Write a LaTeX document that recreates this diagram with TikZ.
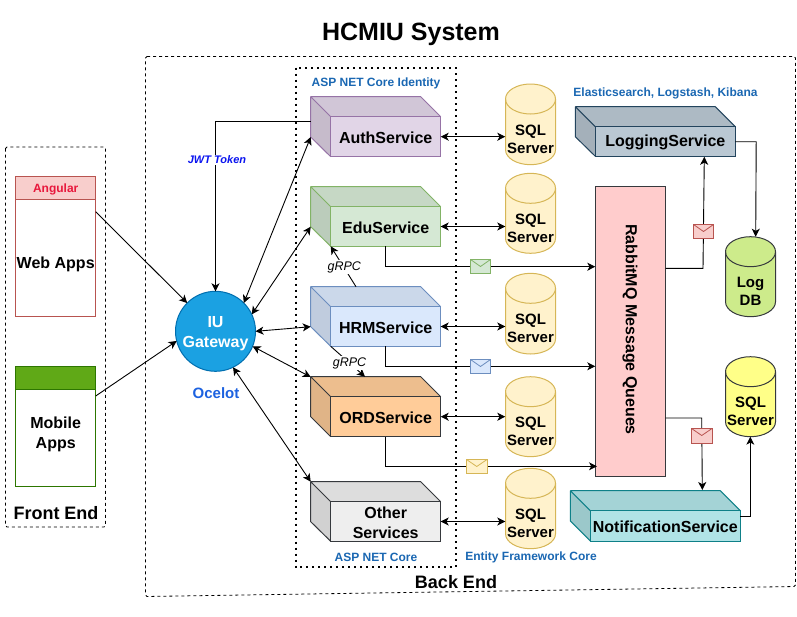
\documentclass[tikz,border=0pt]{standalone}
\usepackage{fontspec}
\setmainfont{Liberation Sans}
\usetikzlibrary{arrows.meta,calc}
\definecolor{infoblue}{HTML}{1A67B2}
\definecolor{ocelot}{HTML}{1D62E0}
\definecolor{crim}{HTML}{E8183C}
\definecolor{jwt}{HTML}{0A14F0}
\definecolor{angfill}{HTML}{F8CECC}
\definecolor{angstroke}{HTML}{B85450}
\definecolor{mobfill}{HTML}{60A917}
\definecolor{mobstroke}{HTML}{2D7600}
\definecolor{gatefill}{HTML}{1BA1E2}
\definecolor{gatestroke}{HTML}{006EAF}
\definecolor{authf}{HTML}{E1D5E7}
\definecolor{auths}{HTML}{9673A6}
\definecolor{eduf}{HTML}{D5E8D4}
\definecolor{edus}{HTML}{82B366}
\definecolor{hrmf}{HTML}{DAE8FC}
\definecolor{hrms}{HTML}{6C8EBF}
\definecolor{ordf}{HTML}{FFCC99}
\definecolor{dk}{HTML}{36393D}
\definecolor{othf}{HTML}{EEEEEE}
\definecolor{logf}{HTML}{BAC8D3}
\definecolor{logst}{HTML}{23445D}
\definecolor{notf}{HTML}{B0E3E6}
\definecolor{nots}{HTML}{0E8088}
\definecolor{rabf}{HTML}{FFCCCC}
\definecolor{sqlf}{HTML}{FFF2CC}
\definecolor{sqls}{HTML}{D6B656}
\definecolor{ldbf}{HTML}{CDEB8B}
\definecolor{ysf}{HTML}{FFFF88}
\tikzset{
  x=1pt,y=-1pt,
  conn/.style={draw=black,line width=0.9pt},
  tip/.style={-{Stealth[length=8pt,width=8pt,inset=2.2pt]}},
  dtip/.style={{Stealth[length=8pt,width=8pt,inset=2.2pt]}-{Stealth[length=8pt,width=8pt,inset=2.2pt]}},
  lab/.style={font=\bfseries\fontsize{16}{20}\selectfont,align=center,text=black,inner sep=0pt},
  sql/.style={font=\bfseries\fontsize{15}{18}\selectfont,align=center,text=black,inner sep=0pt},
  info/.style={font=\bfseries\fontsize{12}{14}\selectfont,text=infoblue,inner sep=0pt},
  rpc/.style={font=\itshape\fontsize{12.5}{15}\selectfont,fill=white,inner sep=1pt},
  big/.style={font=\bfseries\fontsize{18}{22}\selectfont,inner sep=0pt},
}
% \cuboid{name}{backleft x}{back right x}{front left x}{front right x}{top y}{front top y}{side bottom y}{bottom y}{fill}{stroke}{text}
\newcommand{\cuboid}[9]{%
  \def\cbname{#1}\def\cbA{#2}\def\cbB{#3}\def\cbC{#4}\def\cbD{#5}\def\cbE{#6}\def\cbF{#7}\def\cbG{#8}\def\cbH{#9}\cuboidrest}
\newcommand{\cuboidrest}[3]{%
  \fill[#1!93!black] (\cbA,\cbE) -- (\cbB,\cbE) -- (\cbD,\cbF) -- (\cbC,\cbF) -- cycle;
  \fill[#1!88!black] (\cbA,\cbE) -- (\cbC,\cbF) -- (\cbC,\cbH) -- (\cbA,\cbG) -- cycle;
  \draw[#2,line width=1pt,line join=round] (\cbA,\cbE) -- (\cbB,\cbE) -- (\cbD,\cbF) (\cbA,\cbE) -- (\cbC,\cbF) (\cbA,\cbE) -- (\cbA,\cbG) -- (\cbC,\cbH);
  \node[draw=#2,fill=#1,line width=1pt,minimum width={\cbD-\cbC},minimum height={\cbH-\cbF},inner sep=0pt,anchor=north west,outer sep=0pt] (\cbname) at (\cbC,\cbF) {};
  \node[lab] (\cbname-text) at ([yshift=-1.2pt]\cbname.center) {#3};
  \coordinate (\cbname-tl) at (\cbA,\cbE);
  \coordinate (\cbname-bl) at (\cbA,\cbG);
}
% \cyl{name}{left}{right}{top}{bottom}{fill}{stroke}{text}
\newcommand{\cyl}[8]{%
  \path[fill=#6,draw=#7,line width=1pt] (#2,#4+15) -- (#2,#5-15) arc[start angle=180,end angle=360,x radius={(#3-#2)/2},y radius=-15] -- (#3,#4+15) arc[start angle=0,end angle=180,x radius={(#3-#2)/2},y radius=-15] -- cycle;
  \draw[#7,line width=1pt] (#2,#4+15) arc[start angle=180,end angle=360,x radius={(#3-#2)/2},y radius=-15];
  \node[sql,minimum width={#3-#2},minimum height={#5-#4-30}] (#1) at ({(#2+#3)/2},{(#4+#5)/2+14.7}) {#8};
}
% \mail{name}{left}{right}{top}{bottom}{fill}{stroke}
\newcommand{\mail}[7]{%
  \node[draw=#7,fill=#6,line width=1pt,minimum width={#3-#2},minimum height={#5-#4},inner sep=0pt,outer sep=0pt] (#1) at ({(#2+#3)/2},{(#4+#5)/2}) {};
  \draw[#7,line width=0.8pt] (#2,#4) -- ({(#2+#3)/2},{#4+7}) -- (#3,#4);
}
\begin{document}
\begin{tikzpicture}
\useasboundingbox (0,0) rectangle (797,616);
\node[font=\bfseries\fontsize{25}{30}\selectfont,inner sep=0pt] (title) at (411,34) {HCMIU System};
% containers
\draw[dashed,rounded corners=1.5pt,line width=0.8pt,dash pattern=on 3pt off 3pt] (145.5,56.5) -- (795.5,56.5) -- (795.5,586.5) -- (145.5,596.5) -- cycle;
\draw[dashed,rounded corners=1.5pt,line width=0.8pt,dash pattern=on 3pt off 3pt] (5.5,147) rectangle (105.5,527);
\draw[line width=2pt,dash pattern=on 2pt off 4pt] (295.5,67.5) rectangle (455.5,567);
\node[big] (be) at (456,582) {Back End};
\node[big] (fe) at (56,513.5) {Front End};
% front end
\node[draw=angstroke,fill=white,line width=1pt,minimum width=80,minimum height=140,inner sep=0pt,outer sep=0pt,lab] (web) at (55.7,246.5) {};
\node[draw=angstroke,line width=1pt,fill=angfill,minimum width=80,minimum height=22.6,inner sep=0pt,outer sep=0pt] (ang) at (55.7,188) {};
\node[font=\bfseries\fontsize{12}{14}\selectfont,text=crim,inner sep=0pt] (angt) at (55.7,189.5) {Angular};
\node[lab] (webt) at (55.7,264.5) {Web Apps};
\node[draw=mobstroke,fill=white,line width=1pt,minimum width=80,minimum height=120,inner sep=0pt,outer sep=0pt] (mob) at (55.7,426.5) {};
\node[draw=mobstroke,fill=mobfill,line width=1pt,minimum width=80,minimum height=22.6,inner sep=0pt,outer sep=0pt] (mobh) at (55.7,378) {};
\node[lab] (mobt) at (55.7,434) {Mobile\\Apps};
% gateway
\node[circle,draw=gatestroke,fill=gatefill,line width=1pt,minimum size=80,inner sep=0pt,outer sep=0pt] (gw) at (215.5,331.3) {};
\node[font=\bfseries\fontsize{16}{20}\selectfont,align=center,text=white,inner sep=0pt] (gwt) at (215.5,333.5) {IU\\Gateway};
\node[font=\bfseries\fontsize{15}{18}\selectfont,text=ocelot,inner sep=0pt] (oc) at (216,393.5) {Ocelot};
% services
\cuboid{auth}{310.7}{420.7}{330.7}{440.7}{96.7}{116.7}{137}{156.7}{authf}{auths}{AuthService}
\cuboid{edu}{310.7}{420.7}{330.7}{440.7}{186.7}{206.7}{226.7}{246.3}{eduf}{edus}{EduService}
\cuboid{hrm}{310.7}{420.7}{330.7}{440.7}{286.7}{306.7}{326.7}{346.3}{hrmf}{hrms}{HRMService}
\cuboid{ord}{310.7}{420.7}{330.7}{440.7}{376.7}{396.7}{416.7}{436.7}{ordf}{dk}{ORDService}
\cuboid{oth}{310.7}{420.7}{330.7}{440.7}{481.7}{501.7}{521.7}{541.3}{othf}{dk}{Other\\Services}
\cuboid{logs}{575.3}{715.3}{595.3}{735.3}{106.7}{126.7}{136.7}{156.3}{logf}{logst}{LoggingService}
\cuboid{noti}{570.3}{720.3}{590.3}{740.3}{490.7}{510.7}{521}{541}{notf}{nots}{NotificationService}
% rabbit
\node[draw=dk,fill=rabf,line width=1pt,minimum width=70.4,minimum height=290,inner sep=0pt,outer sep=0pt] (rab) at (630.5,331.7) {};
\node[lab,rotate=-90] (rabt) at (630,329.5) {RabbitMQ Message Queues};
% databases
\cyl{s1}{505.5}{555.5}{84}{164.7}{sqlf}{sqls}{SQL\\Server}
\cyl{s2}{505.5}{555.5}{173.3}{253.3}{sqlf}{sqls}{SQL\\Server}
\cyl{s3}{505.5}{555.5}{273.3}{354}{sqlf}{sqls}{SQL\\Server}
\cyl{s4}{505.5}{555.5}{376.7}{456.7}{sqlf}{sqls}{SQL\\Server}
\cyl{s5}{505.5}{555.5}{468.3}{548.7}{sqlf}{sqls}{SQL\\Server}
\cyl{ldb}{725.5}{775.5}{236.7}{316.7}{ldbf}{dk}{Log\\DB}
\cyl{ys}{725.5}{775.5}{356.7}{436.7}{ysf}{dk}{SQL\\Server}
% info labels
\node[info] (i1) at (376,83) {ASP NET Core Identity};
\node[info] (i2) at (376,557.5) {ASP NET Core};
\node[info] (i3) at (531,557.5) {Entity Framework Core};
\node[info] (i4) at (665.5,93.5) {Elasticsearch, Logstash, Kibana};
% connectors
\draw[conn,tip] (web.east |- 0,211.7) -- (gw.135);
\draw[conn,tip] (mob.east |- 0,396) -- (gw.194);
\draw[conn,tip] (auth-tl |- 0,121.7) -- (215.5,121.7) -- (gw.north);
\node[font=\bfseries\itshape\fontsize{11}{13}\selectfont,text=jwt,fill=white,inner sep=1pt] (jwt) at (217,160) {JWT Token};
\draw[conn,dtip] (gw.45) -- (auth-bl);
\draw[conn,dtip] (gw.25) -- (edu-bl);
\draw[conn,dtip] (gw.east) -- (hrm-bl);
\draw[conn,dtip] (gw.-22) -- (ord-tl |- 0,377);
\draw[conn,dtip] (gw.-64) -- (oth-tl);
\draw[conn,dtip] (auth.east) -- (s1.west |- auth.east);
\draw[conn,dtip] (edu.east) -- (s2.west |- edu.east);
\draw[conn,dtip] (hrm.east) -- (s3.west |- hrm.east);
\draw[conn,dtip] (ord.east) -- (s4.west |- ord.east);
\draw[conn,dtip] (oth.east) -- (s5.west |- oth.east);
\draw[conn,tip] (356,286.7) -- (edu.south west);
\node[rpc] (g1) at (344.3,267) {gRPC};
\draw[conn,tip] (hrm.south west) -- (365,376.7);
\node[rpc] (g2) at (349.5,363) {gRPC};
\draw[conn,tip] (edu.south) -- (385.7,266.7) -- (rab.west |- 0,266.7);
\draw[conn,tip] (hrm.south) -- (385.7,366.3) -- (rab.west |- 0,366.3);
\draw[conn,tip] (ord.south) -- (385.7,466.3) -- (597,466.3);
\draw[conn,tip] (rab.east |- 0,268.3) -- (703,268.3) -- (704.3,156.8);
\draw[conn,tip] (rab.east |- 0,418) -- (701.7,418) -- (702.3,490);
\draw[conn,tip] (logs.east |- 0,141.7) -- (756.2,141.7) -- (755.7,236.7);
\draw[conn,tip] (noti.east |- 0,516) -- (750.3,516) -- (750.3,436.7);
% envelopes
\mail{m1}{470.5}{490.5}{259.5}{273.5}{eduf}{edus}
\mail{m2}{470.5}{490.5}{359.5}{373.5}{hrmf}{hrms}
\mail{m3}{466.5}{487}{459.5}{473.5}{sqlf}{sqls}
\mail{m4}{693.5}{713.5}{224.5}{238.5}{angfill}{angstroke}
\mail{m5}{691.5}{712}{428.5}{443}{angfill}{angstroke}
\end{tikzpicture}
\end{document}
